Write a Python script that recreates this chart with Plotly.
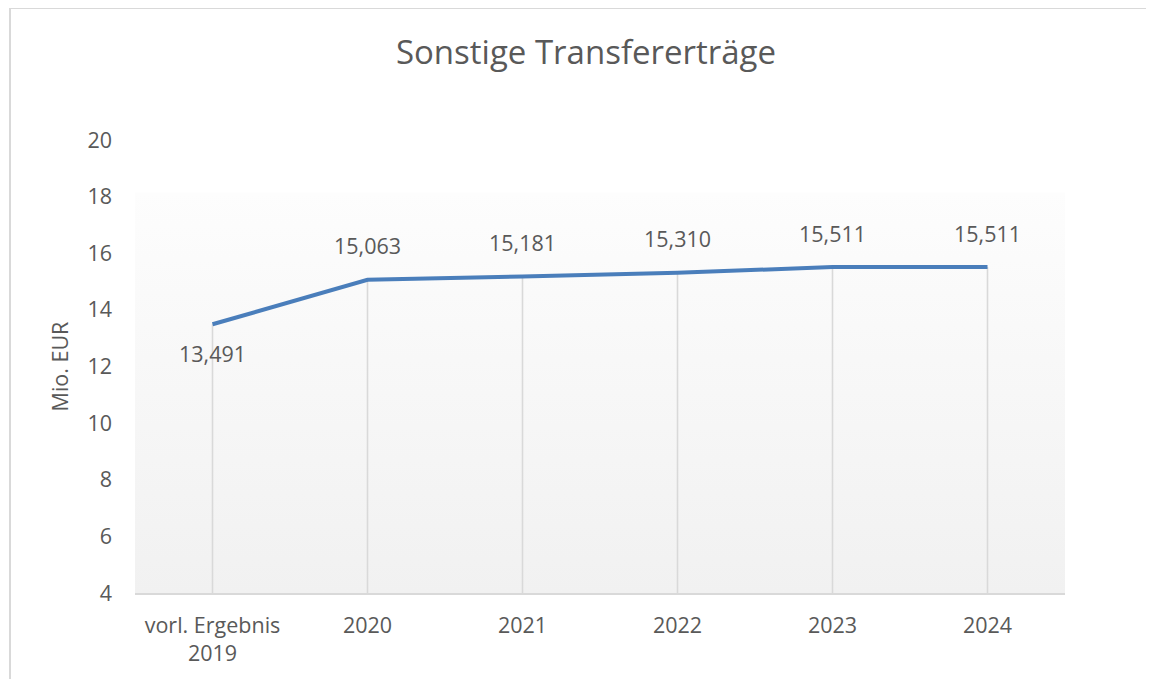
import plotly.graph_objects as go

categories = ["vorl. Ergebnis<br>2019", "2020", "2021", "2022", "2023", "2024"]
values = [13.491, 15.063, 15.181, 15.310, 15.511, 15.511]
labels = ["13,491", "15,063", "15,181", "15,310", "15,511", "15,511"]
label_shift = [-29, 34, 34, 34, 34, 34]
y_ticks = [4, 6, 8, 10, 12, 14, 16, 18, 20]

FONT = "Open Sans"
GREY_TXT = "#595959"
LINE_BLUE = "#4a7ebb"
DROP = "#d9d9d9"
FS = 21.5

xs = list(range(len(categories)))
OFF = 8  # page body margin
W, H = 1154 - 2 * OFF, 679 - OFF
L, T = 135 - OFF, 140 - OFF
R, B = W - (1065 - OFF), H - (593 - OFF)
pw, ph = W - L - R, H - T - B

fig = go.Figure()

# gradient backdrop
fig.add_trace(go.Scatter(
    x=[-0.5, 5.5, 5.5, -0.5, -0.5], y=[4, 4, 18.15, 18.15, 4],
    mode="lines", line=dict(width=0), fill="toself",
    fillgradient=dict(type="vertical", start=4, stop=18.15,
                      colorscale=[[0, "#f1f1f1"], [1, "#fdfdfd"]]),
    hoverinfo="skip", showlegend=False))

# drop lines via error bars
fig.add_trace(go.Scatter(
    x=xs, y=values, mode="markers", marker=dict(size=0.1, color="rgba(0,0,0,0)"),
    error_y=dict(type="data", symmetric=False, array=[0] * len(values),
                 arrayminus=[v - y_ticks[0] for v in values],
                 color=DROP, thickness=1.6, width=0),
    hoverinfo="skip", showlegend=False))

fig.add_trace(go.Scatter(
    x=xs, y=values, mode="lines", line=dict(color=LINE_BLUE, width=4),
    showlegend=False))

for x, v, t, s in zip(xs, values, labels, label_shift):
    fig.add_annotation(x=x, y=v, text=t, showarrow=False, yshift=s,
                       font=dict(family=FONT, size=FS, color=GREY_TXT))

# outer border: only top and left edges are visible in the frame
bx0, by0 = 10 - OFF, 8 - OFF
px_left = (bx0 - L) / pw
px_right = (W - L) / pw
py_top = (T - by0) / ph + 1
py_bot = -(B) / ph
fig.add_shape(type="line", xref="paper", yref="paper",
              x0=px_left, x1=px_right, y0=py_top, y1=py_top,
              line=dict(color="#d9d9d9", width=2), layer="below")
fig.add_shape(type="line", xref="paper", yref="paper",
              x0=px_left, x1=px_left, y0=py_bot, y1=py_top,
              line=dict(color="#d9d9d9", width=2), layer="below")

fig.update_layout(
    width=W, height=H,
    margin=dict(l=L, r=R, t=T, b=B),
    paper_bgcolor="white", plot_bgcolor="white",
    font=dict(family=FONT, color=GREY_TXT, size=FS),
    title=dict(text="Sonstige Transfererträge", x=(586 - OFF) / W, xanchor="center",
               y=1 - (52 - OFF) / H, yanchor="middle",
               font=dict(family=FONT, size=33, color=GREY_TXT)),
    xaxis=dict(range=[-0.5, 5.5], tickvals=xs, ticktext=categories,
               showgrid=False, zeroline=False, showline=True, linecolor=DROP,
               linewidth=2, ticks="", ticklabelstandoff=12, automargin=False,
               tickfont=dict(family=FONT, size=FS, color=GREY_TXT)),
    yaxis=dict(range=[4, 20], tickvals=y_ticks, showgrid=False, zeroline=False,
               showline=False, ticks="", ticklabelstandoff=22, automargin=False,
               tickfont=dict(family=FONT, size=FS, color=GREY_TXT),
               title=dict(text="Mio. EUR", standoff=12,
                          font=dict(family=FONT, size=FS, color=GREY_TXT))),
)

fig.write_html("out.html")
